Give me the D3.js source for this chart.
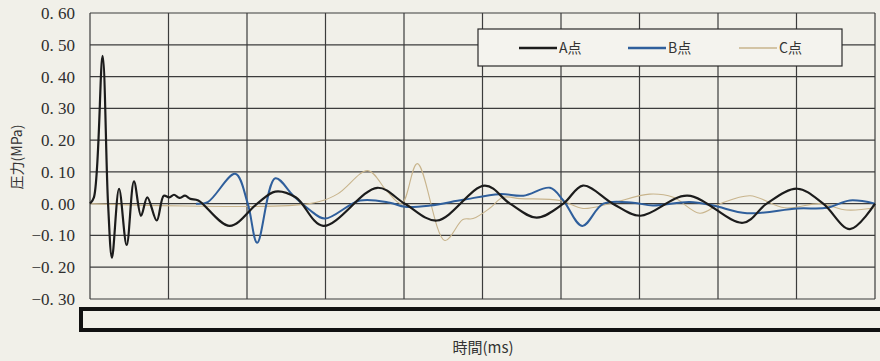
<!DOCTYPE html>
<html>
<head>
<meta charset="utf-8">
<script src="https://cdn.jsdelivr.net/npm/d3@7/dist/d3.min.js"></script>
<style>
  html, body { margin: 0; padding: 0; background: #f1f0e9; }
  svg { display: block; }
</style>
</head>
<body>
<svg id="chart" width="880" height="361"></svg>
<script>
// Data (time axis in grid units: 10 per cell, pressure in MPa)
const yTicks = [-0.3, -0.2, -0.1, 0, 0.1, 0.2, 0.3, 0.4, 0.5, 0.6];
const xTicks = [0, 10, 20, 30, 40, 50, 60, 70, 80, 90, 100];
const seriesNames = ['A点', 'B点', 'C点'];

const timeA = [0, 0.5, 1.6, 2.3, 2.8, 3.7, 4.67, 5.6, 6.5, 7.3, 8.5, 9.4, 10.1, 10.7, 11.4, 12.1, 12.8, 13.8,
  17.8, 21.3, 23.6, 26.2, 29.7, 36.6, 40.1, 44.2, 50.3, 53.5, 56.9, 60.3, 62.8, 66.6, 70.1,
  76.1, 83.2, 86.2, 90.1, 93.4, 96.8, 100];
const valA = [0, 0.02, 0.465, 0, -0.17, 0.047, -0.13, 0.07, -0.038, 0.02, -0.053, 0.025, 0.02, 0.028, 0.018, 0.025, 0.015, 0.01,
  -0.07, 0, 0.038, 0.02, -0.07, 0.05, 0, -0.053, 0.057, 0, -0.044, 0, 0.057, 0, -0.038,
  0.025, -0.06, 0, 0.047, 0, -0.08, 0];

const timeB = [13.5, 15, 18.5, 20.1, 21.3, 23.6, 25.9, 28, 29.9, 34.4, 38.2, 40.1, 43.3, 47.5, 52.2, 55.2, 58.6,
  60.3, 62.7, 65.4, 69.2, 71.7, 76.4, 79.4, 83.7, 90.1, 93.9, 96.8, 100];
const valB = [0, 0.005, 0.094, 0, -0.123, 0.08, 0.025, -0.02, -0.047, 0.01, 0.003, -0.01, -0.006, 0.012, 0.03, 0.025, 0.05,
  0.01, -0.07, 0, 0.003, -0.006, 0.005, -0.006, -0.03, -0.015, -0.013, 0.01, 0];

const timeC = [0, 28, 31.5, 35.4, 37.8, 39.7, 41.7, 45.2, 47.5, 48.8, 51, 52.6, 54.8, 59.9, 62.8, 66.2, 71.3,
  74.3, 77.7, 80.3, 84.1, 88.5, 93, 96.4, 100];
const valC = [0, 0, 0.03, 0.104, 0.04, 0, 0.126, -0.116, -0.05, -0.047, -0.013, 0.02, 0.016, 0.01, -0.015, 0, 0.03,
  0.02, -0.03, 0, 0.025, -0.013, 0, -0.02, -0.013];

const series = [
  { name: seriesNames[0], t: timeA, v: valA, color: '#1c1c1c', width: 2.2 },
  { name: seriesNames[1], t: timeB, v: valB, color: '#2f5f9c', width: 2 },
  { name: seriesNames[2], t: timeC, v: valC, color: '#c8b48c', width: 1.1 },
];

const svg = d3.select('#chart');
const margin = { top: 13, right: 5, bottom: 62, left: 90 };
const width = 880 - margin.left - margin.right;
const height = 361 - margin.top - margin.bottom;

const x = d3.scaleLinear().domain([0, 100]).range([0, width]);
const y = d3.scaleLinear().domain([-0.3, 0.6]).range([height, 0]);

const g = svg.append('g')
  .attr('transform', `translate(${margin.left},${margin.top})`);

// Grid
g.append('g')
  .selectAll('line')
  .data(yTicks)
  .enter().append('line')
  .attr('x1', 0).attr('x2', width)
  .attr('y1', (d) => y(d)).attr('y2', (d) => y(d))
  .attr('stroke', '#3c3c3c').attr('stroke-width', 1.2);

g.append('g')
  .selectAll('line')
  .data(xTicks)
  .enter().append('line')
  .attr('x1', (d) => x(d)).attr('x2', (d) => x(d))
  .attr('y1', 0).attr('y2', height)
  .attr('stroke', '#3c3c3c').attr('stroke-width', 1.2);

// Y axis labels
const fmt = (d) => {
  const s = Math.abs(d).toFixed(2).replace('.', '. ');
  return (d < 0 ? '\u2212' : '') + s;
};
g.append('g')
  .selectAll('text')
  .data(yTicks)
  .enter().append('text')
  .attr('x', -15)
  .attr('y', (d) => y(d))
  .attr('dy', '0.35em')
  .attr('text-anchor', 'end')
  .style('font-family', '"Liberation Serif", serif')
  .style('font-size', '17px')
  .attr('fill', '#2e2e2e')
  .text(fmt);

// Lines
const line = d3.line()
  .x((d) => x(d[0]))
  .y((d) => y(d[1]))
  .curve(d3.curveCatmullRom.alpha(0.5));

// draw C first, then B, then A on top
[series[2], series[1], series[0]].forEach((s) => {
  const pts = s.t.map((t, i) => [t, s.v[i]]);
  g.append('path')
    .datum(pts)
    .attr('d', line)
    .attr('fill', 'none')
    .attr('stroke', s.color)
    .attr('stroke-width', s.width)
    .attr('stroke-linejoin', 'round');
});

// Legend
const legend = svg.append('g').attr('transform', 'translate(478,29)');
legend.append('rect')
  .attr('width', 364).attr('height', 37)
  .attr('fill', '#f4f3ee')
  .attr('stroke', '#2a2a2a').attr('stroke-width', 1.2);
const legendX = [41, 150, 261];
series.forEach((s, i) => {
  const item = legend.append('g').attr('transform', `translate(${legendX[i]},19)`);
  item.append('line')
    .attr('x1', 0).attr('x2', 38)
    .attr('stroke', s.color)
    .attr('stroke-width', s.width + 0.4);
  item.append('text')
    .attr('x', 40).attr('dy', '0.36em')
    .style('font-family', '"Noto Sans CJK JP", sans-serif')
    .style('font-size', '14px')
    .attr('fill', '#333')
    .text(s.name);
});

// Thick bar covering the x axis labels
svg.append('rect')
  .attr('x', 81).attr('y', 309)
  .attr('width', 820).attr('height', 21)
  .attr('fill', '#f1f0e9')
  .attr('stroke', '#111').attr('stroke-width', 4);

// Axis titles
svg.append('text')
  .attr('x', 483).attr('y', 353)
  .attr('text-anchor', 'middle')
  .style('font-family', '"Noto Sans CJK JP", sans-serif')
  .style('font-size', '15px')
  .attr('fill', '#333')
  .text('時間(ms)');

svg.append('text')
  .attr('transform', 'translate(22,157) rotate(-90)')
  .attr('text-anchor', 'middle')
  .style('font-family', '"Noto Sans CJK JP", sans-serif')
  .style('font-size', '14px')
  .attr('fill', '#333')
  .text('圧力(MPa)');
</script>
</body>
</html>
